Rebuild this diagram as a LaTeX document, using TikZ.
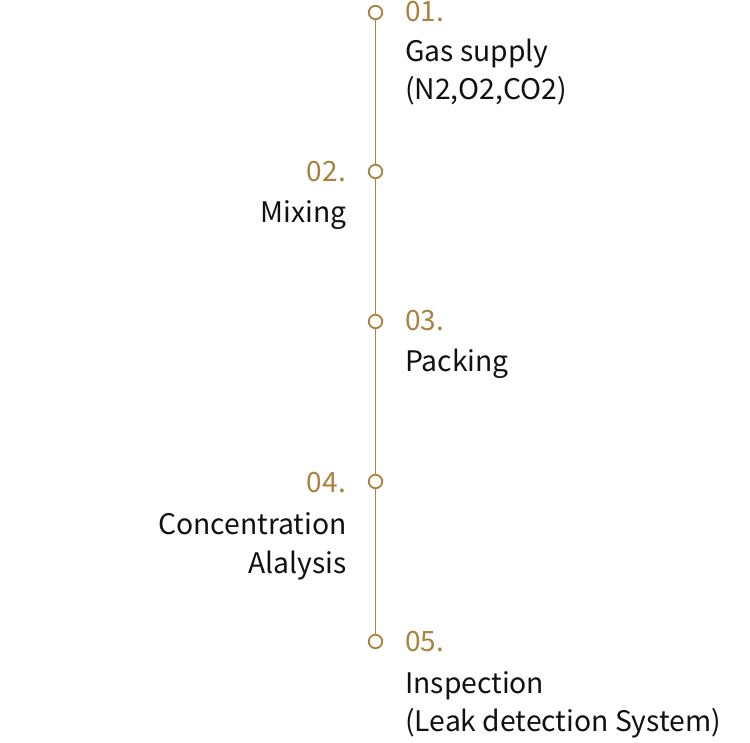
\documentclass[tikz,border=0pt]{standalone}
\usepackage{fontspec}
\setmainfont{Noto Sans CJK KR}
\usetikzlibrary{backgrounds}
\definecolor{gold}{HTML}{A8823E}
\definecolor{ink}{HTML}{111111}
\tikzset{
  dot/.style={circle,draw=gold,fill=white,line width=1.8pt,minimum size=13.5pt,inner sep=0pt},
  num/.style={text=gold,font=\fontsize{28}{32}\selectfont,inner sep=0pt},
  lbl/.style={text=ink,font=\fontsize{28.3}{32}\selectfont,inner sep=0pt},
  stem/.style={draw=gold,line width=1.3pt}
}
\begin{document}
\begin{tikzpicture}[x=1pt,y=-1pt]
\useasboundingbox (0,0) rectangle (750,743);
% circles
\node[dot] (c1) at (375.5,12.5) {};
\node[dot] (c2) at (375.5,171.5) {};
\node[dot] (c3) at (375.5,321.5) {};
\node[dot] (c4) at (375.5,481.5) {};
\node[dot] (c5) at (375.5,641.5) {};
\begin{scope}[on background layer]
\draw[stem] (c1.center) -- (c5.center);
\end{scope}
% 01
\node[num,anchor=base west] (n1) at (405,22) {01.};
\node[lbl,anchor=base west] (t1a) at (405,62) {Gas supply};
\node[lbl,anchor=base west] (t1b) at (405,100) {(N2,O2,CO2)};
% 02
\node[num,anchor=base east] (n2) at (346,182) {02.};
\node[lbl,anchor=base east] (t2a) at (347,223) {Mixing};
% 03
\node[num,anchor=base west] (n3) at (405,331) {03.};
\node[lbl,anchor=base west] (t3a) at (405,372) {Packing};
% 04
\node[num,anchor=base east] (n4) at (346,492) {04.};
\node[lbl,anchor=base east] (t4a) at (347,534) {Concentration};
\node[lbl,anchor=base east] (t4b) at (347,573) {Alalysis};
% 05
\node[num,anchor=base west] (n5) at (405,651) {05.};
\node[lbl,anchor=base west] (t5a) at (405,693) {Inspection};
\node[lbl,anchor=base west] (t5b) at (405,731) {(Leak detection System)};
\end{tikzpicture}
\end{document}
